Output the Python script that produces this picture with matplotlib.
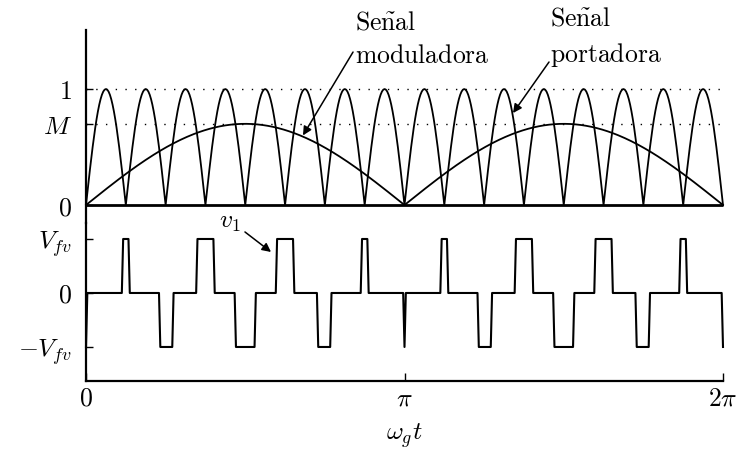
"""
Sinusoidal PWM with a rectified carrier: carrier |sin| arches vs. modulating
M|sin(wt)|, and the resulting output pulse train v1.
Writes out.png (736 x 449 px).
"""
import numpy as np
import matplotlib
matplotlib.use("Agg")
import matplotlib.pyplot as plt

plt.rcParams["mathtext.fontset"] = "cm"
plt.rcParams["font.family"] = ["DejaVu Serif"]

# --- values ---
M_INDEX = 0.70          # amplitude of the modulating signal
CARRIER_ARCHES = 16     # |sin| arches of the carrier over 0..2pi
V_FV = 1.0              # output level
N_SAMPLES = 481         # coarse sampling, gives the slightly slanted pulse edges

Y_TOP_TICKS  = [0, M_INDEX, 1]
Y_TOP_LABELS = [r"$0$", r"$M$", r"$1$"]
Y_BOT_TICKS  = [-V_FV, 0, V_FV]
Y_BOT_LABELS = [r"$-V_{fv}$", r"$0$", r"$V_{fv}$"]
X_TICKS  = [0, np.pi, 2 * np.pi]
X_LABELS = [r"$0$", r"$\pi$", r"$2\pi$"]

FS = 18.5
LW = 1.3
BLACK = "black"

W, H = 736, 449


def rect(x0, y0, x1, y1):
    """pixel box (top-left origin) -> figure fraction rect"""
    return [x0 / W, 1 - y1 / H, (x1 - x0) / W, (y1 - y0) / H]


# --- signals ---
wt = np.linspace(0, 2 * np.pi, N_SAMPLES)
half = CARRIER_ARCHES / 2
carrier = np.abs(np.sin(half * wt))
modul = M_INDEX * np.abs(np.sin(wt))
k = np.rint(wt / (np.pi / half)).astype(int)      # nearest carrier trough
sign = np.where(k % 2 == 1, 1.0, -1.0)
v1 = np.where(modul >= carrier - 1e-9, sign * V_FV, 0.0)

fig = plt.figure(figsize=(W / 100, H / 100), dpi=100)
ax_t = fig.add_axes(rect(86, 30, 723, 223))
ax_b = fig.add_axes(rect(86, 223, 723, 381))

for ax in (ax_t, ax_b):
    ax.set_xlim(0, 2 * np.pi)
    ax.patch.set_alpha(0)
    for s in ("top", "right"):
        ax.spines[s].set_visible(False)
    ax.spines["left"].set_linewidth(1.6)

# --- top panel ---
ax_t.set_ylim(-0.155, 1.509)
ax_t.spines["bottom"].set_visible(False)
ax_t.set_xticks([])
for lvl in (1, M_INDEX):
    ax_t.plot([0, 2 * np.pi], [lvl, lvl], color=BLACK, lw=1.0,
              ls=(0, (1, 6)), clip_on=False)
ax_t.plot([0, 2 * np.pi], [0, 0], color=BLACK, lw=2.0, clip_on=False,
          solid_capstyle="butt")
ax_t.plot(wt, carrier, color=BLACK, lw=LW, clip_on=False)
ax_t.plot(wt, modul, color=BLACK, lw=LW, clip_on=False)
ax_t.set_yticks(Y_TOP_TICKS)
ax_t.set_yticklabels(Y_TOP_LABELS)
ax_t.tick_params(axis="y", direction="in", length=5, width=1.0,
                 labelsize=FS, pad=10)

arrow_kw = dict(arrowstyle="-|>", color=BLACK, lw=1.1, mutation_scale=13,
                shrinkA=0, shrinkB=0)
ax_t.annotate("", xy=(2.14, 0.60), xytext=(2.634, 1.319), arrowprops=arrow_kw)
ax_t.annotate("", xy=(4.212, 0.793), xytext=(4.567, 1.233), arrowprops=arrow_kw)
ax_t.text(2.653, 1.578, r"$\mathrm{Se\tilde{n}al}$", fontsize=FS,
          ha="left", va="center")
ax_t.text(2.653, 1.293, r"$\mathrm{moduladora}$", fontsize=FS,
          ha="left", va="center")
ax_t.text(4.577, 1.612, r"$\mathrm{Se\tilde{n}al}$", fontsize=FS,
          ha="left", va="center")
ax_t.text(4.577, 1.293, r"$\mathrm{portadora}$", fontsize=FS,
          ha="left", va="center")

# --- bottom panel ---
ax_b.set_ylim(-1.630, 1.296)
ax_b.spines["bottom"].set_linewidth(1.6)
ax_b.plot(wt, v1, color=BLACK, lw=1.5, clip_on=False)
ax_b.set_yticks(Y_BOT_TICKS)
ax_b.set_yticklabels(Y_BOT_LABELS)
ax_b.set_xticks(X_TICKS)
ax_b.set_xticklabels(X_LABELS)
ax_b.tick_params(axis="y", direction="in", length=5, width=1.0,
                 labelsize=FS, pad=10)
ax_b.tick_params(axis="x", direction="in", length=6, width=1.0,
                 labelsize=FS, pad=3)
ax_b.set_xlabel(r"$\omega_g t$", fontsize=FS, labelpad=8)

ax_b.annotate("", xy=(1.825, 0.759), xytext=(1.568, 1.13), arrowprops=arrow_kw)
ax_b.text(1.42, 1.315, r"$v_1$", fontsize=FS, ha="center", va="center")

fig.savefig("out.png", dpi=100)
